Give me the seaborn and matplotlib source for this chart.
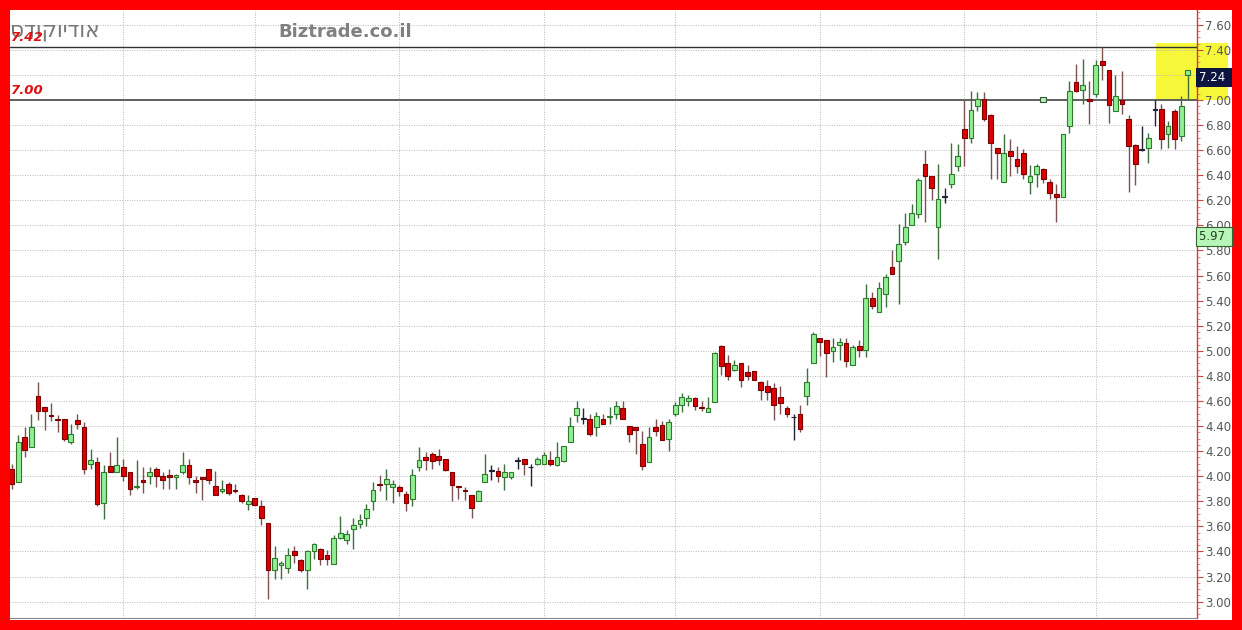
import numpy as np
import pandas as pd
import matplotlib
matplotlib.use("Agg")
import matplotlib.pyplot as plt
import matplotlib.transforms as mtransforms
from matplotlib.patches import Rectangle
import seaborn as sns

sns.set_style("white")
plt.rcParams['font.family'] = ['DejaVu Sans']

# daily OHLC (180 sessions)
opens = [4.06, 3.955, 4.31, 4.23, 4.64, 4.55, 4.49, 4.46, 4.46, 4.27,
         4.45, 4.39, 4.10, 4.11, 3.79, 4.08, 4.03, 4.07, 4.03, 3.91,
         3.97, 4.00, 4.06, 4.00, 4.01, 3.99, 4.03, 4.09, 3.97, 3.99,
         4.06, 3.92, 3.88, 3.94, 3.89, 3.85, 3.78, 3.83, 3.76, 3.63,
         3.25, 3.29, 3.27, 3.40, 3.33, 3.25, 3.40, 3.42, 3.37, 3.30,
         3.51, 3.49, 3.58, 3.62, 3.67, 3.80, 3.94, 3.94, 3.91, 3.91,
         3.86, 3.82, 4.07, 4.15, 4.18, 4.16, 4.14, 4.03, 3.92, 3.89,
         3.85, 3.80, 3.95, 4.04, 4.04, 3.99, 3.99, 4.12, 4.14, 4.07,
         4.10, 4.10, 4.13, 4.09, 4.12, 4.27, 4.49, 4.46, 4.46, 4.39,
         4.46, 4.47, 4.50, 4.54, 4.40, 4.39, 4.26, 4.11, 4.39, 4.41,
         4.30, 4.50, 4.57, 4.60, 4.62, 4.55, 4.51, 4.59, 5.04, 4.90,
         4.85, 4.90, 4.83, 4.84, 4.75, 4.72, 4.70, 4.63, 4.54, 4.47,
         4.50, 4.64, 4.90, 5.10, 5.09, 5.00, 5.05, 5.06, 4.89, 5.04,
         5.01, 5.42, 5.31, 5.45, 5.67, 5.72, 5.87, 6.00, 6.09, 6.49,
         6.39, 5.99, 6.23, 6.33, 6.47, 6.77, 6.70, 6.95, 7.01, 6.88,
         6.62, 6.35, 6.59, 6.53, 6.58, 6.35, 6.41, 6.45, 6.35, 6.25,
         6.23, 6.79, 7.14, 7.08, 7.01, 7.05, 7.31, 7.24, 6.91, 7.00,
         6.85, 6.64, 6.60, 6.62, 6.92, 6.93, 6.73, 6.91, 6.71, 7.20]
highs = [4.10, 4.33, 4.39, 4.50, 4.75, 4.55, 4.58, 4.49, 4.46, 4.42,
         4.50, 4.43, 4.22, 4.15, 4.09, 4.19, 4.31, 4.14, 4.03, 4.13,
         4.07, 4.07, 4.07, 4.03, 4.06, 4.02, 4.19, 4.14, 4.00, 3.99,
         4.06, 4.04, 3.97, 3.95, 3.94, 3.86, 3.85, 3.83, 3.81, 3.63,
         3.44, 3.32, 3.43, 3.44, 3.34, 3.41, 3.47, 3.43, 3.41, 3.53,
         3.68, 3.57, 3.67, 3.70, 3.78, 3.95, 4.01, 4.06, 3.97, 3.93,
         3.88, 4.06, 4.23, 4.19, 4.19, 4.22, 4.14, 4.03, 3.92, 3.91,
         3.85, 3.89, 4.18, 4.09, 4.07, 4.10, 4.03, 4.15, 4.14, 4.10,
         4.15, 4.19, 4.20, 4.27, 4.24, 4.47, 4.60, 4.54, 4.50, 4.51,
         4.50, 4.55, 4.60, 4.60, 4.40, 4.39, 4.36, 4.39, 4.46, 4.44,
         4.46, 4.59, 4.66, 4.65, 4.63, 4.60, 4.63, 4.99, 5.05, 4.97,
         4.93, 4.90, 4.89, 4.84, 4.76, 4.77, 4.74, 4.72, 4.56, 4.50,
         4.57, 4.86, 5.15, 5.10, 5.09, 5.10, 5.10, 5.10, 5.05, 5.09,
         5.53, 5.47, 5.55, 5.61, 5.80, 6.01, 6.10, 6.17, 6.38, 6.60,
         6.39, 6.49, 6.30, 6.66, 6.65, 7.00, 7.07, 7.06, 7.06, 6.89,
         6.62, 6.73, 6.69, 6.63, 6.61, 6.48, 6.49, 6.46, 6.37, 6.33,
         6.73, 7.15, 7.29, 7.33, 7.15, 7.32, 7.42, 7.24, 7.20, 7.23,
         6.88, 6.65, 6.79, 6.74, 7.00, 6.97, 6.83, 6.93, 7.03, 7.24]
lows = [3.90, 3.95, 4.15, 4.23, 4.45, 4.37, 4.44, 4.35, 4.28, 4.26,
        4.38, 4.02, 4.06, 3.76, 3.66, 4.03, 4.03, 3.96, 3.85, 3.90,
        3.87, 3.94, 3.91, 3.90, 3.90, 3.90, 4.02, 3.94, 3.87, 3.81,
        3.94, 3.85, 3.87, 3.85, 3.87, 3.79, 3.73, 3.77, 3.61, 3.02,
        3.18, 3.18, 3.23, 3.31, 3.24, 3.10, 3.34, 3.29, 3.29, 3.30,
        3.50, 3.46, 3.42, 3.59, 3.60, 3.73, 3.88, 3.81, 3.79, 3.84,
        3.72, 3.76, 4.04, 4.05, 4.06, 4.09, 4.04, 3.80, 3.82, 3.81,
        3.67, 3.80, 3.95, 3.97, 3.95, 3.89, 3.98, 4.06, 4.01, 3.92,
        4.09, 4.10, 4.08, 4.08, 4.11, 4.27, 4.43, 4.42, 4.32, 4.32,
        4.42, 4.42, 4.46, 4.46, 4.27, 4.18, 4.05, 4.11, 4.32, 4.29,
        4.20, 4.48, 4.51, 4.56, 4.53, 4.52, 4.51, 4.59, 4.81, 4.77,
        4.84, 4.71, 4.77, 4.77, 4.61, 4.61, 4.45, 4.50, 4.47, 4.29,
        4.35, 4.57, 4.90, 4.96, 4.79, 4.91, 4.93, 4.87, 4.89, 4.95,
        4.95, 5.33, 5.31, 5.35, 5.61, 5.37, 5.84, 6.00, 6.06, 6.03,
        6.20, 5.73, 6.18, 6.30, 6.43, 6.47, 6.66, 6.91, 6.83, 6.37,
        6.37, 6.35, 6.39, 6.42, 6.37, 6.25, 6.31, 6.34, 6.21, 6.03,
        6.23, 6.74, 7.06, 6.97, 6.81, 7.02, 7.16, 6.82, 6.91, 6.89,
        6.27, 6.32, 6.59, 6.50, 6.79, 6.61, 6.62, 6.61, 6.67, 7.00]
closes = [3.94, 4.27, 4.21, 4.39, 4.52, 4.52, 4.48, 4.45, 4.30, 4.34,
          4.42, 4.06, 4.13, 3.78, 4.03, 4.03, 4.09, 4.00, 3.90, 3.92,
          3.95, 4.03, 4.00, 3.97, 3.99, 4.01, 4.09, 3.99, 3.95, 3.98,
          3.97, 3.85, 3.90, 3.87, 3.88, 3.80, 3.80, 3.77, 3.67, 3.25,
          3.35, 3.31, 3.37, 3.37, 3.25, 3.40, 3.46, 3.34, 3.34, 3.51,
          3.55, 3.54, 3.61, 3.65, 3.74, 3.89, 3.93, 3.98, 3.94, 3.88,
          3.79, 4.01, 4.13, 4.13, 4.12, 4.13, 4.05, 3.93, 3.91, 3.88,
          3.75, 3.88, 4.02, 4.04, 4.00, 4.03, 4.03, 4.12, 4.10, 4.07,
          4.14, 4.17, 4.10, 4.15, 4.24, 4.40, 4.54, 4.46, 4.34, 4.48,
          4.42, 4.48, 4.56, 4.46, 4.34, 4.37, 4.08, 4.31, 4.36, 4.29,
          4.43, 4.57, 4.63, 4.62, 4.56, 4.54, 4.54, 4.98, 4.88, 4.80,
          4.89, 4.77, 4.80, 4.77, 4.69, 4.67, 4.57, 4.58, 4.50, 4.47,
          4.38, 4.75, 5.13, 5.07, 4.98, 5.03, 5.07, 4.92, 5.03, 5.01,
          5.42, 5.36, 5.50, 5.59, 5.61, 5.85, 5.99, 6.10, 6.36, 6.39,
          6.30, 6.21, 6.23, 6.41, 6.55, 6.70, 6.92, 7.01, 6.85, 6.66,
          6.58, 6.58, 6.55, 6.47, 6.41, 6.39, 6.47, 6.37, 6.26, 6.23,
          6.73, 7.07, 7.07, 7.12, 6.99, 7.28, 7.28, 6.96, 7.03, 6.97,
          6.63, 6.49, 6.60, 6.70, 6.92, 6.69, 6.79, 6.69, 6.95, 7.24]

month_starts = [17, 37, 59, 81, 101, 123, 145, 165]
levels = [7.42, 7.00]
level_labels = ["7.42", "7.00"]
last_price = 7.24
indicator_value = 5.97
marker_idx = 157
title_he = "אודיוקודס"
site_name = "Biztrade.co.il"
y_ticks = np.round(np.arange(3.0, 7.61, 0.2), 2)

df = pd.DataFrame({"open": opens, "high": highs, "low": lows, "close": closes})
df["idx"] = np.arange(len(df))
df["dir"] = np.where(df["close"] > df["open"], "up",
                     np.where(df["close"] < df["open"], "down", "flat"))

fill = {"up": "#92ee92", "down": "#dd0000", "flat": "#222233"}
edge = {"up": "#2e7a2e", "down": "#7a0000", "flat": "#222233"}
wick = {"up": "#3f6e3f", "down": "#7d5252", "flat": "#222233"}

W, H = 1242, 630
fig = plt.figure(figsize=(W / 100, H / 100), dpi=100, facecolor="#ff0000")
fig.patches.append(Rectangle((10 / W, 10 / H), 1222 / W, 610 / H,
                             transform=fig.transFigure, facecolor="white",
                             edgecolor="none", zorder=-5))
ax = fig.add_axes([10 / W, 1 - 618 / H, (1197 - 10) / W, (618 - 10) / H])
ax.set_zorder(1)
ax.set_facecolor("white")

# pixel mapping: x = 11.7 + 6.57*i ; y = 100 + (7 - v)*125.4
ax.set_xlim((10 - 11.7) / 6.57, (1197 - 11.7) / 6.57)
ax.set_ylim(7 - (618 - 100) / 125.4, 7 + 90 / 125.4)

# highlighted box on the right
x_box0 = (1156 - 11.7) / 6.57
ax.add_patch(Rectangle((x_box0, 7.0), (1228 - 1156) / 6.57, 0.455,
                       facecolor="#f7f73a", edgecolor="none",
                       clip_on=False, zorder=0.5))

# candles
ax.vlines(df["idx"], df["low"], df["high"],
          colors=[wick[d] for d in df["dir"]], lw=1.0, zorder=3)
body_lo = np.minimum(df["open"], df["close"])
body_h = np.maximum(np.abs(df["close"] - df["open"]), 0.006)
ax.bar(df["idx"], body_h, bottom=body_lo, width=0.72,
       color=[fill[d] for d in df["dir"]],
       edgecolor=[edge[d] for d in df["dir"]], lw=0.8, zorder=4)

# level lines and labels
blend = mtransforms.blended_transform_factory(ax.transAxes, ax.transData)
ax.axhline(levels[0], color="#333333", lw=1.0, zorder=2)
ax.axhline(levels[1], color="#555555", lw=1.3, zorder=2)
for lv, lab in zip(levels, level_labels):
    ax.text(0.001, lv + 0.025, lab, transform=blend, color="#dd1111",
            fontsize=9.5, fontstyle="italic", fontweight="bold",
            ha="left", va="bottom", zorder=6)

ax.add_patch(Rectangle((marker_idx - 0.45, 6.985), 0.9, 0.035,
                       facecolor="#b8f0b8", edgecolor="#335533", lw=0.8, zorder=5))

# titles
ax.text(0.0, 7.55, title_he[::-1], transform=blend, color="#777777",
        fontsize=15.5, ha="left", va="center", zorder=5)
ax.text((278 - 10) / 1187, 7.545, site_name, transform=blend, color="#808080",
        fontsize=13, fontweight="bold", ha="left", va="center", zorder=5)

# grid and axes
ax.set_yticks(y_ticks)
ax.set_yticklabels([f"{v:.2f}" for v in y_ticks])
ax.set_yticks(np.arange(2.9, 7.71, 0.05), minor=True)
ax.yaxis.tick_right()
ax.set_xticks(month_starts)
ax.set_xticklabels([])
ax.tick_params(axis="x", length=0)
ax.tick_params(axis="y", which="major", length=4, width=0.8, color="#cc4444",
               labelsize=8.5, labelcolor="#555555", pad=2)
ax.tick_params(axis="y", which="minor", length=2, width=0.6, color="#dd7777")
ax.grid(True, which="major", ls=(0, (1, 1.5)), color="#b8b8b8", lw=0.7, zorder=1)
ax.set_axisbelow(True)
for s in ["left", "top"]:
    ax.spines[s].set_visible(False)
ax.spines["right"].set_color("#dd3333")
ax.spines["right"].set_linewidth(1.0)
ax.spines["bottom"].set_color("#888888")
ax.spines["bottom"].set_linewidth(0.8)

# price tags on the right axis
ax.text(1.0015, last_price - 0.06, f"{last_price:.2f} ", transform=blend,
        color="white", fontsize=8.5, ha="left", va="center", zorder=7,
        bbox=dict(boxstyle="square,pad=0.25", fc="#0b1540", ec="none"), clip_on=False)
ax.text(1.0015, indicator_value - 0.06, f"{indicator_value:.2f} ", transform=blend,
        color="#224422", fontsize=8.5, ha="left", va="center", zorder=7,
        bbox=dict(boxstyle="square,pad=0.25", fc="#b8f5b8", ec="#336633", lw=0.8),
        clip_on=False)

fig.savefig("out.png", dpi=100, facecolor=fig.get_facecolor())
